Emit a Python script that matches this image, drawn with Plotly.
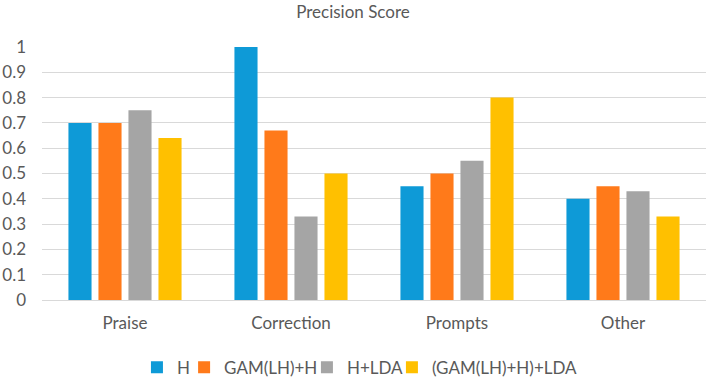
import plotly.graph_objects as go

categories = ["Praise", "Correction", "Prompts", "Other"]
series_names = ["H", "GAM(LH)+H", "H+LDA", "(GAM(LH)+H)+LDA"]
h_vals = [0.70, 1.00, 0.45, 0.40]
gam_vals = [0.70, 0.67, 0.50, 0.45]
lda_vals = [0.75, 0.33, 0.55, 0.43]
gam_lda_vals = [0.64, 0.50, 0.80, 0.33]
colors = ["#0E9AD7", "#FF7A1A", "#A5A5A5", "#FFC000"]
y_ticks = [0, 0.1, 0.2, 0.3, 0.4, 0.5, 0.6, 0.7, 0.8, 0.9, 1]
y_tick_labels = ["0", "0.1", "0.2", "0.3", "0.4", "0.5", "0.6", "0.7", "0.8", "0.9", "1"]

FONT = "Lato"
TXT = "#595959"
legend_ids = ["legend", "legend2", "legend3", "legend4"]
legend_x = [0.143, 0.214, 0.399, 0.527]

fig = go.Figure()
for name, vals, col, lid in zip(series_names, [h_vals, gam_vals, lda_vals, gam_lda_vals], colors, legend_ids):
    fig.add_trace(go.Bar(name=name, x=categories, y=vals, legend=lid,
                         marker=dict(color=col, line=dict(width=0))))

legend_common = dict(orientation="h", xanchor="left", y=-0.268, yanchor="middle",
                     font=dict(family=FONT, size=17, color=TXT), itemwidth=30,
                     bgcolor="rgba(0,0,0,0)")
fig.update_layout(
    width=706, height=378,
    paper_bgcolor="white", plot_bgcolor="white",
    margin=dict(l=42, r=0, t=47, b=78, autoexpand=False),
    barmode="group", bargap=0.277, bargroupgap=0.23,
    title=dict(text="Precision Score", x=0.5, xanchor="center", y=0.968, yanchor="middle",
               font=dict(family=FONT, size=17, color=TXT)),
    font=dict(family=FONT, size=17, color=TXT),
    legend=dict(x=legend_x[0], **legend_common),
    legend2=dict(x=legend_x[1], **legend_common),
    legend3=dict(x=legend_x[2], **legend_common),
    legend4=dict(x=legend_x[3], **legend_common),
    showlegend=True,
)
fig.update_yaxes(range=[0, 1], tickvals=y_ticks, ticktext=y_tick_labels, showgrid=True,
                 gridcolor="#D9D9D9", gridwidth=1, zeroline=False, showline=False,
                 automargin=False, ticklabelstandoff=15,
                 tickfont=dict(family=FONT, size=17, color=TXT))
fig.update_xaxes(showline=True, linecolor="#D9D9D9", linewidth=1, ticks="", automargin=False,
                 tickfont=dict(family=FONT, size=17, color=TXT), ticklabelstandoff=8)
fig.write_html("out.html", config={"displayModeBar": False},
               post_script="document.body.style.margin='0';")
